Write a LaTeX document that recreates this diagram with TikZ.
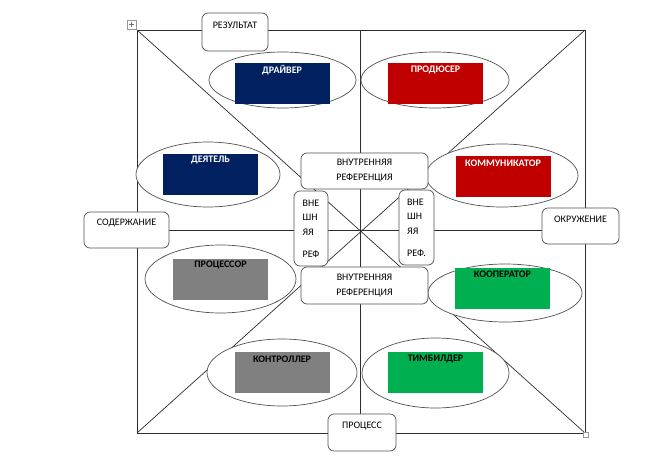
\documentclass[tikz,border=0pt]{standalone}
\usepackage{fontspec}
\setmainfont{Carlito}
\usepackage{tikz}
\usetikzlibrary{positioning,shapes.geometric}
\definecolor{ink}{RGB}{45,45,45}
\definecolor{edge}{RGB}{80,80,80}
\definecolor{navyrole}{RGB}{0,32,96}
\definecolor{redrole}{RGB}{192,0,0}
\definecolor{grayrole}{RGB}{128,128,128}
\definecolor{greenrole}{RGB}{0,176,80}
\tikzset{
  frame/.style={line width=0.7pt,ink},
  pole/.style={draw=edge,line width=0.7pt,fill=white,rounded corners=6pt,inner sep=0pt},
  poletext/.style={font=\fontsize{10}{12}\selectfont,text=black,inner sep=0pt},
  ref/.style={pole,font=\fontsize{10}{15}\selectfont,align=center},
  ext/.style={pole,font=\fontsize{10}{14.5}\selectfont,align=left,minimum width=34pt,minimum height=75pt},
  role/.style={ellipse,draw=edge,line width=0.7pt,fill=white,inner sep=0pt},
  tag/.style={inner sep=0pt,minimum width=95pt,minimum height=41pt},
  tagtext/.style={font=\bfseries\fontsize{10}{12}\selectfont,inner sep=0pt}
}
\begin{document}
\begin{tikzpicture}[x=1pt,y=-1pt]
  \useasboundingbox (0,0) rectangle (659,458);
  \coordinate (nw) at (137,30);
  \coordinate (ne) at (585,30);
  \coordinate (sw) at (137,433);
  \coordinate (se) at (585,433);
  \coordinate (n) at (360.5,30);
  \coordinate (s) at (360.5,433);
  \coordinate (w) at (137,230.5);
  \coordinate (e) at (585,230.5);
  \draw[frame] (nw) rectangle (se);
  \draw[frame] (nw) -- (se) (ne) -- (sw) (n) -- (s) (w) -- (e);
  \draw[edge!60,fill=white] (127,20) rectangle (136,29);
  \draw[edge!80,line width=0.5pt] (129,24.5) -- (134,24.5) (131.5,22) -- (131.5,27);
  \draw[edge!60,fill=white] (583,432) rectangle (588,437);

  \node[role,minimum width=147pt,minimum height=56pt] (driver-e) at (282.5,80) {};
  \node[tag,fill=navyrole] (driver) at (282,83.5) {};
  \node[tagtext,text=white] (driver-l) at ([yshift=-7pt]driver.north) {ДРАЙВЕР};

  \node[role,minimum width=148pt,minimum height=56pt] (producer-e) at (435,80) {};
  \node[tag,fill=redrole] (producer) at (435.5,83.5) {};
  \node[tagtext,text=white] (producer-l) at ([yshift=-7pt]producer.north) {ПРОДЮСЕР};

  \node[role,minimum width=144pt,minimum height=65pt] (actor-e) at (208,174.5) {};
  \node[tag,fill=navyrole] (actor) at (210.5,174) {};
  \node[tagtext,text=white] (actor-l) at ([yshift=-7pt]actor.north) {ДЕЯТЕЛЬ};

  \node[role,minimum width=152pt,minimum height=63pt] (comm-e) at (502,175.5) {};
  \node[tag,fill=redrole] (comm) at (503,176.5) {};
  \node[tagtext,text=white] (comm-l) at ([yshift=-7pt]comm.north) {КОММУНИКАТОР};

  \node[role,minimum width=151pt,minimum height=68pt] (proc-e) at (220.5,279) {};
  \node[tag,fill=grayrole] (proc) at (220.5,279) {};
  \node[tagtext,text=black] (proc-l) at ([yshift=-7pt]proc.north) {ПРОЦЕССОР};

  \node[role,minimum width=154pt,minimum height=58pt] (coop-e) at (505,293) {};
  \node[tag,fill=greenrole] (coop) at (502.5,288) {};
  \node[tagtext,text=black] (coop-l) at ([yshift=-7pt]coop.north) {КООПЕРАТОР};

  \node[role,minimum width=150pt,minimum height=67pt] (ctrl-e) at (282,372.5) {};
  \node[tag,fill=grayrole] (ctrl) at (282,372.5) {};
  \node[tagtext,text=black] (ctrl-l) at ([yshift=-7pt]ctrl.north) {КОНТРОЛЛЕР};

  \node[role,minimum width=147pt,minimum height=70pt] (team-e) at (435.5,373) {};
  \node[tag,fill=greenrole] (team) at (435.5,372.5) {};
  \node[tagtext,text=black] (team-l) at ([yshift=-7pt]team.north) {ТИМБИЛДЕР};

  \node[pole,minimum width=66pt,minimum height=38pt] (result) at (235,32) {};
  \node[poletext] (result-l) at ([yshift=-13pt]result.north) {РЕЗУЛЬТАТ};
  \node[pole,minimum width=85pt,minimum height=36pt] (content) at (126.5,230) {};
  \node[poletext] (content-l) at ([yshift=-11pt]content.north) {СОДЕРЖАНИЕ};
  \node[pole,minimum width=77pt,minimum height=36pt] (envir) at (580.5,226) {};
  \node[poletext] (envir-l) at ([yshift=-12pt]envir.north) {ОКРУЖЕНИЕ};
  \node[pole,minimum width=68pt,minimum height=37pt] (process) at (362,432.5) {};
  \node[poletext] (process-l) at ([yshift=-12pt]process.north) {ПРОЦЕСС};

  \node[ref,minimum width=127pt,minimum height=36pt] (inner-t) at (364.5,171) {ВНУТРЕННЯЯ\\РЕФЕРЕНЦИЯ};
  \node[ref,minimum width=127pt,minimum height=37pt] (inner-b) at (364.5,285.5) {ВНУТРЕННЯЯ\\РЕФЕРЕНЦИЯ};
  \node[ext] (outer-l) at (311,228.5) {ВНЕ\\ШН\\ЯЯ\\[7.5pt]РЕФ};
  \node[ext,minimum width=35pt] (outer-r) at (416.5,227.5) {ВНЕ\\ШН\\ЯЯ\\[7.5pt]РЕФ.};
\end{tikzpicture}
\end{document}
